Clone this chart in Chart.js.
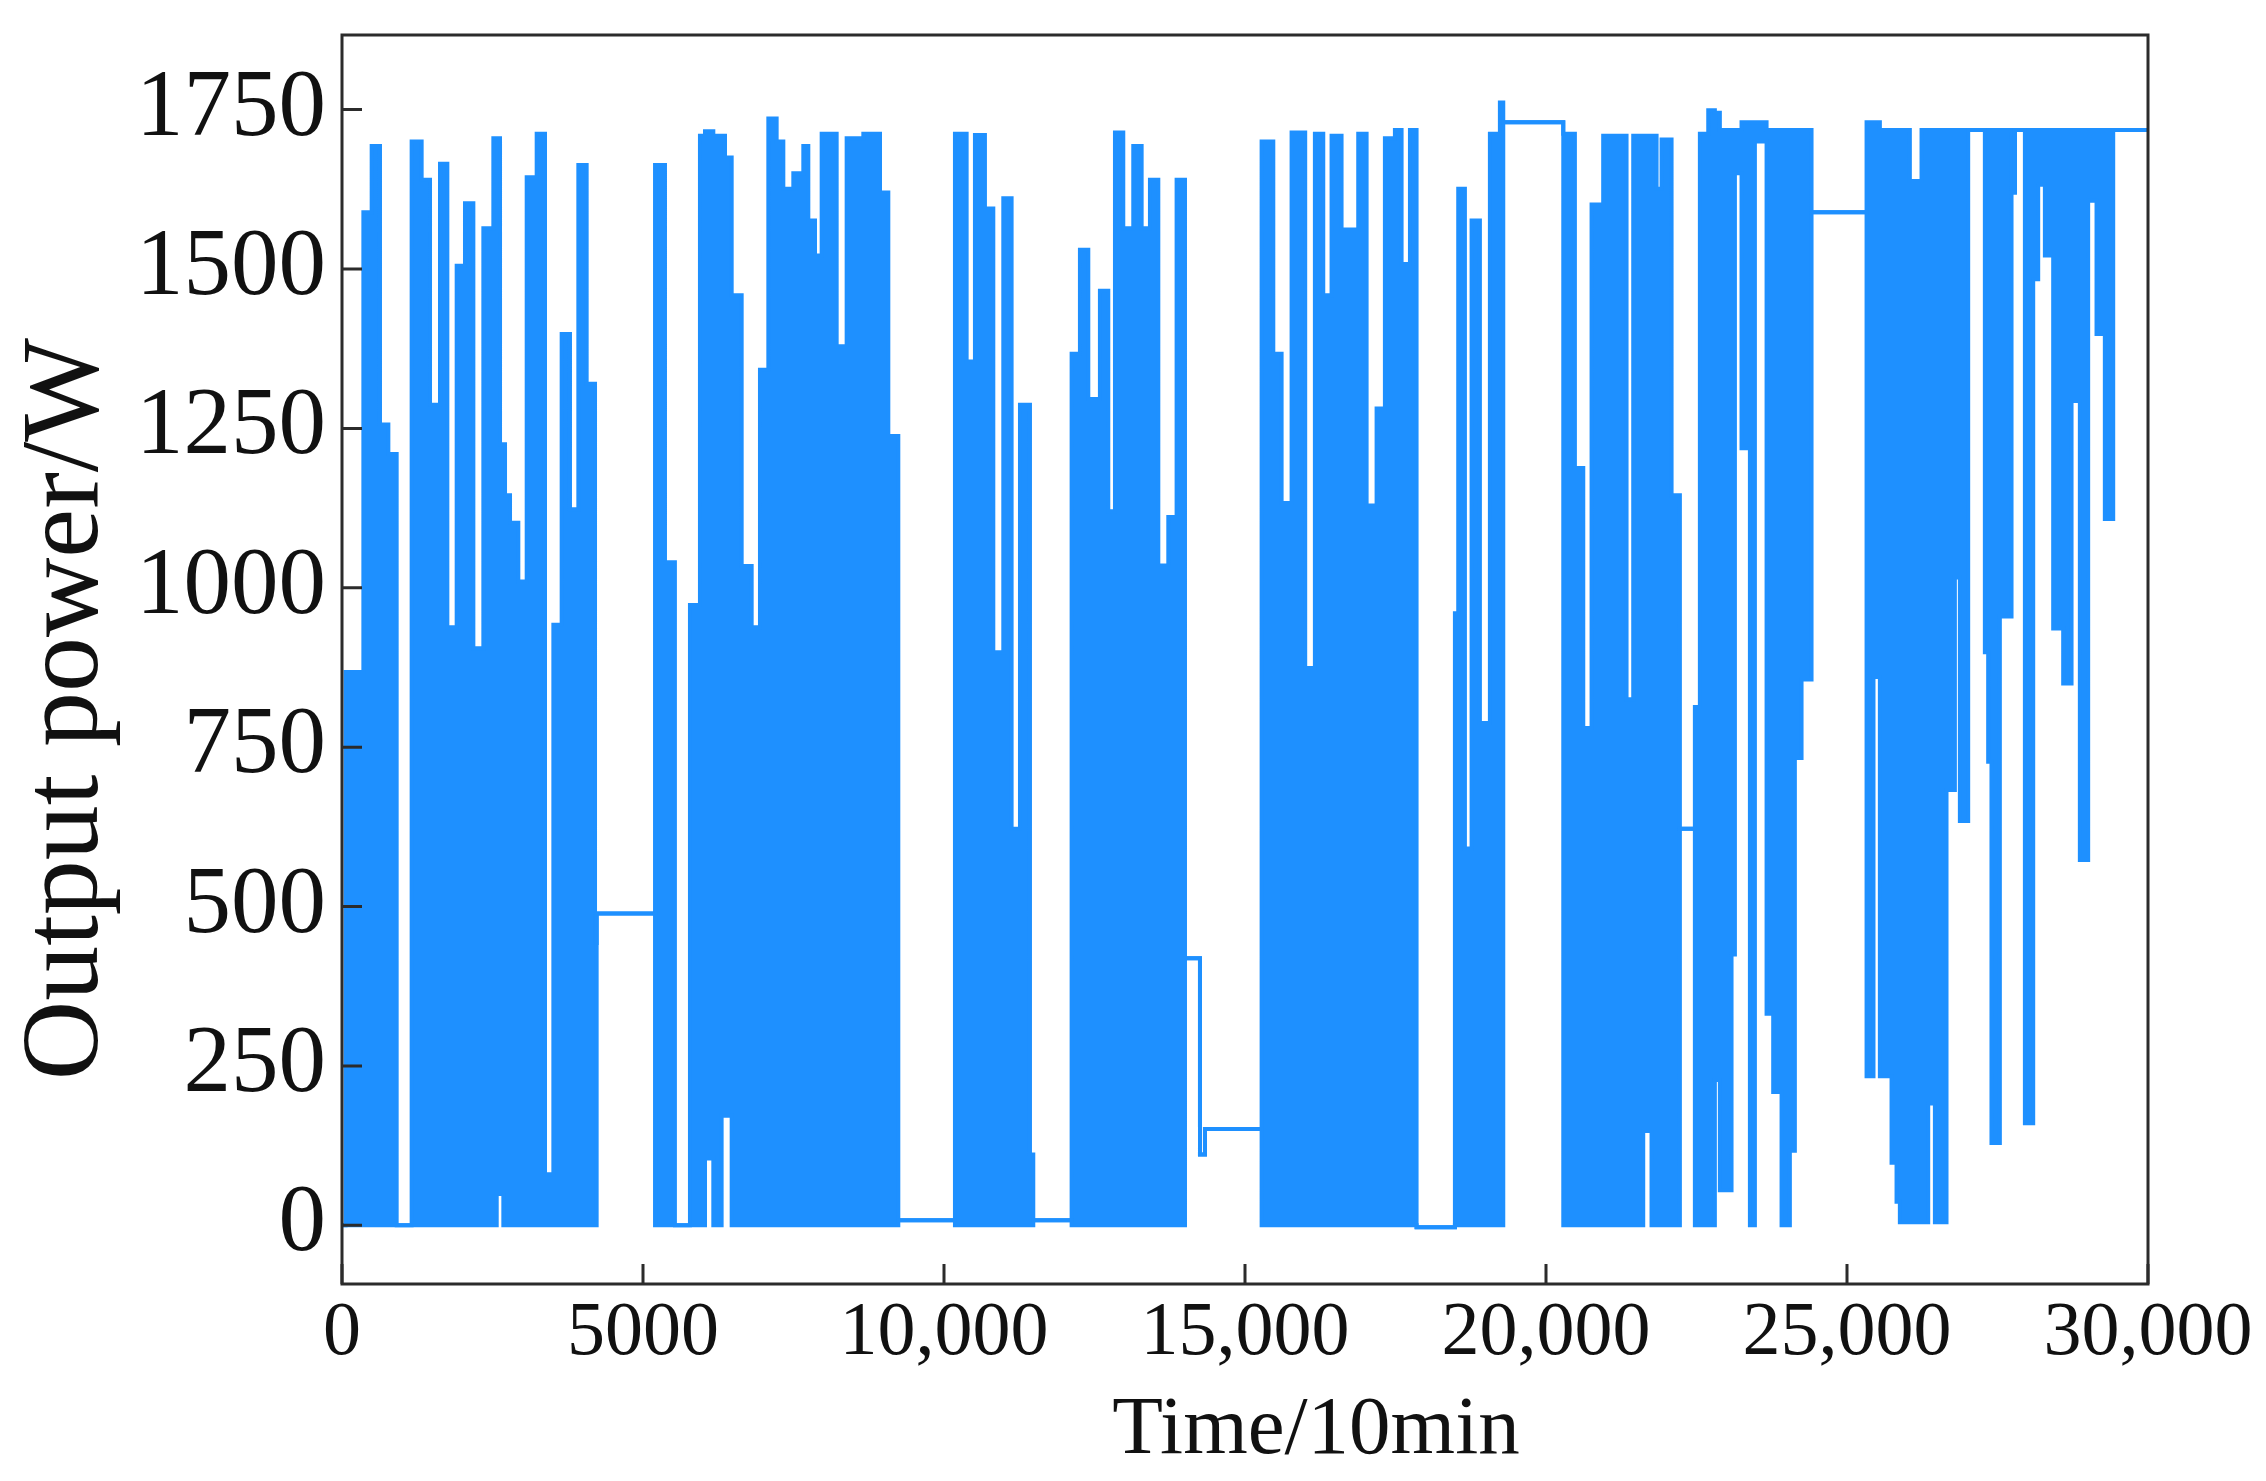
<!DOCTYPE html>
<html lang="en">
<head>
    <meta charset="UTF-8">
    <title>Output power over time</title>
    <script src="https://cdn.jsdelivr.net/npm/chart.js"></script>
    <style>
        body { margin: 0; background: #fff; }
    </style>
</head>
<body>
    <canvas id="powerChart" width="2266" height="1481"></canvas>

    <script>
        // Each step starts at stepTime[i] and holds until the next step.
        // The trace swings between lowerPower and upperPower inside a step.
        const stepTime = [
            0, 60, 355, 493, 631, 770, 908,
            1157, 1323, 1462, 1628, 1750, 1905, 2043, 2182, 2348, 2514, 2570, 2625, 2680, 2708,
            2791, 2929, 3068, 3234, 3372, 3511, 3649, 3787, 3926, 4064, 4203, 4230,
            5200, 5365, 5530,
            5780, 5946, 6030, 6168, 6306, 6362, 6473, 6639, 6805, 6943, 7082, 7220,
            7331, 7497, 7663, 7746, 7857, 7968, 8217, 8383, 8660, 8937, 9075, 9241,
            10182, 10376, 10514, 10680, 10819, 10985, 11123, 11262, 11428, 11483,
            12120, 12258, 12397, 12590, 12729, 12840, 12978, 13144, 13283, 13421, 13560, 13726,
            13864, 14003, 14252, 14335,
            15276, 15470, 15608, 15774, 16000, 16161, 16300, 16438, 16604, 16881, 17020, 17186,
            17324, 17490, 17601, 17740, 17850,
            18487, 18542, 18653, 18764, 18902, 19068, 19234, 19290,
            20287, 20480, 20619, 20757, 20950, 21338, 21449, 21615, 21753, 21837, 21920, 22086, 22224,
            22473, 22556, 22695, 22805, 22888, 23082, 23138, 23248, 23387, 23470, 23664, 23774,
            23913, 24051, 24134, 24245, 24411,
            25325, 25440, 25546, 25740, 25823, 25878, 26044, 26238, 26349, 26460, 26653, 26792, 26875, 27013,
            27290, 27345, 27400, 27539, 27733, 27790, 27955, 28093, 28176, 28287, 28425, 28591,
            28730, 28868, 29006, 29145, 29283, 29422, 30000
        ];

        const upperPower = [
            0, 868, 1589, 1693, 1256, 1210, 0,
            1700, 1640, 1287, 1665, 938, 1505, 1603, 905, 1564, 1705, 1705, 1225, 1225, 1145,
            1102, 1010, 1644, 1712, 80, 942, 1398, 1123, 1663, 1320, 443, 489,
            1663, 1040, 0,
            973, 1709, 1716, 1709, 1709, 1675, 1459, 1034, 938, 1342, 1736, 1700,
            1626, 1650, 1693, 1576, 1521, 1712, 1379, 1705, 1712, 1620, 1238, 8,
            1712, 1355, 1710, 1595, 899, 1611, 622, 1287, 111, 8,
            1367, 1530, 1296, 1466, 1120, 1714, 1564, 1693, 1564, 1640, 1035, 1111,
            1640, 419, 111, 151,
            1700, 1367, 1133, 1714, 874, 1712, 1459, 1709, 1562, 1712, 1129, 1281,
            1705, 1718, 1508, 1718, -3,
            960, 1626, 591, 1576, 788, 1712, 1761, 1730,
            1712, 1188, 780, 1601, 1709, 825, 1709, 1709, 1709, 1626, 1703, 1145, 622,
            813, 1712, 1749, 1745, 1718, 1718, 1718, 1730, 1730, 1730, 1718, 1718,
            1718, 1718, 1718, 1718, 1589,
            1730, 1730, 1718, 1718, 1718, 1718, 1638, 1718, 1718, 1718, 1718, 1718, 1718, 1718,
            1718, 1718, 1718, 1718, 1620, 1718, 1718, 1718, 1718, 1718, 1718, 1718,
            1718, 1718, 1718, 1718, 1718, 1718, 1718
        ];

        const lowerPower = [
            0, 0, 0, 0, 0, 0, 0,
            0, 0, 0, 0, 0, 0, 0, 0, 0, 0, 49, 49, 0, 0,
            0, 0, 0, 0, 0, 0, 0, 0, 0, 0, 0, 489,
            0, 0, 0,
            0, 0, 105, 0, 172, 172, 0, 0, 0, 0, 0, 0,
            0, 0, 0, 0, 0, 0, 0, 0, 0, 0, 0, 8,
            0, 0, 0, 0, 0, 0, 0, 0, 0, 8,
            0, 0, 0, 0, 0, 0, 0, 0, 0, 0, 0, 0,
            0, 419, 111, 151,
            0, 0, 0, 0, 0, 0, 0, 0, 0, 0, 0, 0,
            0, 0, 0, 0, -3,
            0, 0, 0, 0, 0, 0, 0, 1730,
            0, 0, 0, 0, 0, 0, 0, 148, 0, 0, 0, 0, 622,
            0, 0, 0, 228, 55, 425, 1650, 1219, 0, 1700, 332, 209,
            0, 117, 733, 856, 1589,
            234, 860, 234, 98, 37, 5, 5, 5, 191, 5, 683, 1016, 634, 1718,
            899, 727, 129, 955, 1620, 1718, 160, 1484, 1632, 1521, 936, 850,
            1293, 573, 1607, 1398, 1108, 1718, 1718
        ];

        const xTicks = [0, 5000, 10000, 15000, 20000, 25000, 30000];
        const yTicks = [0, 250, 500, 750, 1000, 1250, 1500, 1750];

        const blue = '#1e90ff';

        // frame, inward ticks and axis titles
        const framePlugin = {
            id: 'frame',
            afterDraw(chart) {
                const {ctx, chartArea: a, scales: {x, y}} = chart;
                ctx.save();
                ctx.strokeStyle = '#2b2b2b';
                ctx.lineWidth = 3;
                ctx.strokeRect(a.left, a.top, a.right - a.left, a.bottom - a.top);
                ctx.beginPath();
                y.ticks.forEach(t => {
                    const py = y.getPixelForValue(t.value);
                    ctx.moveTo(a.left, py);
                    ctx.lineTo(a.left + 20, py);
                });
                x.ticks.forEach(t => {
                    const px = x.getPixelForValue(t.value);
                    ctx.moveTo(px, a.bottom);
                    ctx.lineTo(px, a.bottom - 20);
                });
                ctx.stroke();

                ctx.fillStyle = '#111';
                ctx.textAlign = 'center';
                ctx.textBaseline = 'alphabetic';
                ctx.font = '83px "Liberation Serif"';
                ctx.fillText('Time/10min', 1316, 1453);
                ctx.translate(97, 709);
                ctx.rotate(-Math.PI / 2);
                ctx.font = '110px "Liberation Serif"';
                ctx.fillText('Output power/W', 0, 0);
                ctx.restore();
            }
        };

        const lowerData = stepTime.map((t, i) => ({x: t, y: lowerPower[i]}));
        const upperData = stepTime.map((t, i) => ({x: t, y: upperPower[i]}));

        const ctx = document.getElementById('powerChart').getContext('2d');
        new Chart(ctx, {
            type: 'line',
            data: {
                datasets: [{
                    label: 'lower',
                    data: lowerData,
                    stepped: true,
                    borderColor: blue,
                    borderWidth: 4,
                    pointRadius: 0,
                    fill: false
                }, {
                    label: 'Output power',
                    data: upperData,
                    stepped: true,
                    borderColor: blue,
                    backgroundColor: blue,
                    borderWidth: 4,
                    pointRadius: 0,
                    fill: '-1'
                }]
            },
            options: {
                responsive: false,
                animation: false,
                layout: { padding: { top: 35, right: 118, bottom: 0, left: 0 } },
                plugins: {
                    legend: { display: false },
                    tooltip: { enabled: false }
                },
                scales: {
                    x: {
                        type: 'linear',
                        min: 0,
                        max: 30000,
                        afterFit: s => { s.height = 197; s.paddingLeft = 0; s.paddingRight = 0; },
                        afterBuildTicks: s => { s.ticks = xTicks.map(v => ({value: v})); },
                        grid: { display: false },
                        border: { display: false },
                        ticks: {
                            padding: -4,
                            color: '#111',
                            maxRotation: 0,
                            font: { family: 'Liberation Serif', size: 76 },
                            callback: v => v >= 10000 ? v.toLocaleString('en-US') : String(v)
                        }
                    },
                    y: {
                        min: -92,
                        max: 1867,
                        afterFit: s => { s.width = 342; s.paddingTop = 0; s.paddingBottom = 0; },
                        afterBuildTicks: s => { s.ticks = yTicks.map(v => ({value: v})); },
                        grid: { display: false },
                        border: { display: false },
                        ticks: {
                            padding: 8,
                            color: '#111',
                            font: { family: 'Liberation Serif', size: 95 },
                            callback: v => String(v)
                        }
                    }
                }
            },
            plugins: [framePlugin]
        });
    </script>
</body>
</html>
